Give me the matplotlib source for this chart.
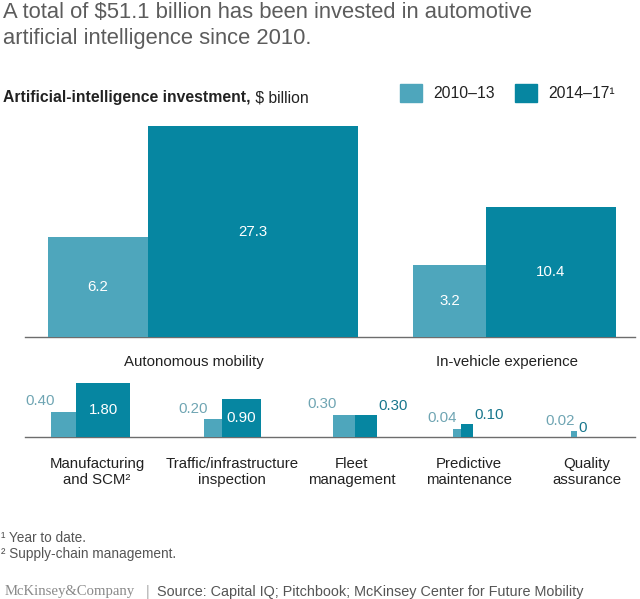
import matplotlib.pyplot as plt
import numpy as np
from matplotlib.patches import Patch

plt.rcParams['font.family'] = ['Liberation Sans', 'DejaVu Sans']

# data ($ billion)
main_cats = ['Autonomous mobility', 'In-vehicle experience']
main_early = [6.2, 3.2]
main_late = [27.3, 10.4]

sub_cats = ['Manufacturing\nand SCM²', 'Traffic/infrastructure\ninspection', 'Fleet\nmanagement',
            'Predictive\nmaintenance', 'Quality\nassurance']
sub_early = [0.40, 0.20, 0.30, 0.04, 0.02]
sub_late = [1.80, 0.90, 0.30, 0.10, 0]
sub_early_lbl = ['0.40', '0.20', '0.30', '0.04', '0.02']
sub_late_lbl = ['1.80', '0.90', '0.30', '0.10', '0']

series = ['2010–13', '2014–17¹']

c_light = '#4ea6bc'
c_dark = '#0686a1'
c_light_txt = '#6fa5b3'
c_dark_txt = '#17768c'

W, H = 640, 599
k = 40.3  # px per sqrt($bn) -> bars are squares, area ~ value

fig = plt.figure(figsize=(6.4, 5.99), dpi=100)


def sqrt_axes(bottom_px, top_px):
    ax = fig.add_axes([0, 1 - bottom_px / H, 1, (bottom_px - top_px) / H])
    ax.set_yscale('function', functions=(lambda y: np.sqrt(np.clip(y, 0, None)), lambda y: y ** 2))
    ax.set_xlim(0, W)
    ax.set_ylim(0, ((bottom_px - top_px) / k) ** 2)
    ax.axis('off')
    ax.plot([25, 635], [0, 0], color='#6d6d6d', lw=1.0, zorder=1, clip_on=False)
    return ax


# ---- top panel
ax1 = sqrt_axes(337, 115)
centers = [203, 514.5]
lbl_x = [194, 507]
for i in range(len(main_cats)):
    a, b = main_early[i], main_late[i]
    wa, wb = k * np.sqrt(a), k * np.sqrt(b)
    left = centers[i] - (wa + wb) / 2
    ax1.bar(left, a, width=wa, align='edge', color=c_light, zorder=2)
    ax1.bar(left + wa, b, width=wb, align='edge', color=c_dark, zorder=2)
    ax1.text(left + wa / 2, a / 4, '%.1f' % a, color='white', fontsize=10.8, ha='center', va='center')
    ax1.text(left + wa + wb / 2, b / 4, '%.1f' % b, color='white', fontsize=10.8, ha='center', va='center')
    fig.text(lbl_x[i] / W, 1 - 362 / H, main_cats[i], fontsize=10.8, color='#222222', ha='center', va='center')

# ---- bottom panel
ax2 = sqrt_axes(437, 370)
centers = [90.5, 232.5, 355, 463, 574]
lbl_x = [97, 232, 352, 469, 587]
for i in range(len(sub_cats)):
    a, b = sub_early[i], sub_late[i]
    wa, wb = k * np.sqrt(a), k * np.sqrt(b)
    left = centers[i] - (wa + wb) / 2
    ax2.bar(left, a, width=wa, align='edge', color=c_light, zorder=2)
    ax2.bar(left + wa, b, width=wb, align='edge', color=c_dark, zorder=2)
    ax2.annotate(sub_early_lbl[i], (left + 4, a), xytext=(0, 2.5), textcoords='offset points',
                 color=c_light_txt, fontsize=10.8, ha='right', va='bottom')
    if b >= 0.9:
        ax2.text(left + wa + wb / 2, b / 4, sub_late_lbl[i], color='white', fontsize=10.8,
                 ha='center', va='center')
    else:
        ax2.annotate(sub_late_lbl[i], (left + wa + wb, b), xytext=(1, 1.5), textcoords='offset points',
                     color=c_dark_txt, fontsize=10.8, ha='left', va='bottom')
    fig.text(lbl_x[i] / W, 1 - 472 / H, sub_cats[i], fontsize=10.8, color='#222222',
             ha='center', va='center', multialignment='center', linespacing=1.15)

# ---- titles
fig.text(3 / W, 1 - 18 / H, 'A total of \\$51.1 billion has been invested in automotive',
         fontsize=15.8, color='#5c5c5c', ha='left', va='baseline')
fig.text(3 / W, 1 - 44 / H, 'artificial intelligence since 2010.',
         fontsize=15.8, color='#5c5c5c', ha='left', va='baseline')
sub = fig.text(3 / W, 1 - 102 / H, 'Artificial-intelligence investment,', fontsize=11.3,
               fontweight='bold', color='#222222', ha='left', va='baseline')
plt.annotate(' \\$ billion', xy=(1, 0), xycoords=sub, xytext=(0, 0), textcoords='offset points',
             fontsize=11.3, color='#222222', ha='left', va='bottom')

handles = [Patch(color=c_light), Patch(color=c_dark)]
fig.legend(handles, series, loc='center left', bbox_to_anchor=(400 / W, 1 - 93 / H), ncol=2,
           frameon=False, fontsize=11.3, handlelength=1.4, handleheight=1.35, handletextpad=0.75,
           columnspacing=1.25, borderpad=0, borderaxespad=0, labelcolor='#222222')

# ---- footnotes
fig.text(1 / W, 1 - 538 / H, '¹ Year to date.', fontsize=9.8, color='#555555', va='center')
fig.text(1 / W, 1 - 554 / H, '² Supply-chain management.', fontsize=9.8, color='#555555', va='center')
fig.text(5 / W, 1 - 592 / H, 'McKinsey&Company', fontsize=10.6, family='Liberation Serif',
         color='#8a8a8a', va='center')
fig.text(146 / W, 1 - 592 / H, '|', fontsize=10, color='#aaaaaa', va='center')
fig.text(157 / W, 1 - 592 / H, 'Source: Capital IQ; Pitchbook; McKinsey Center for Future Mobility',
         fontsize=10.4, color='#555555', va='center')

fig.savefig('out.png', dpi=100)
